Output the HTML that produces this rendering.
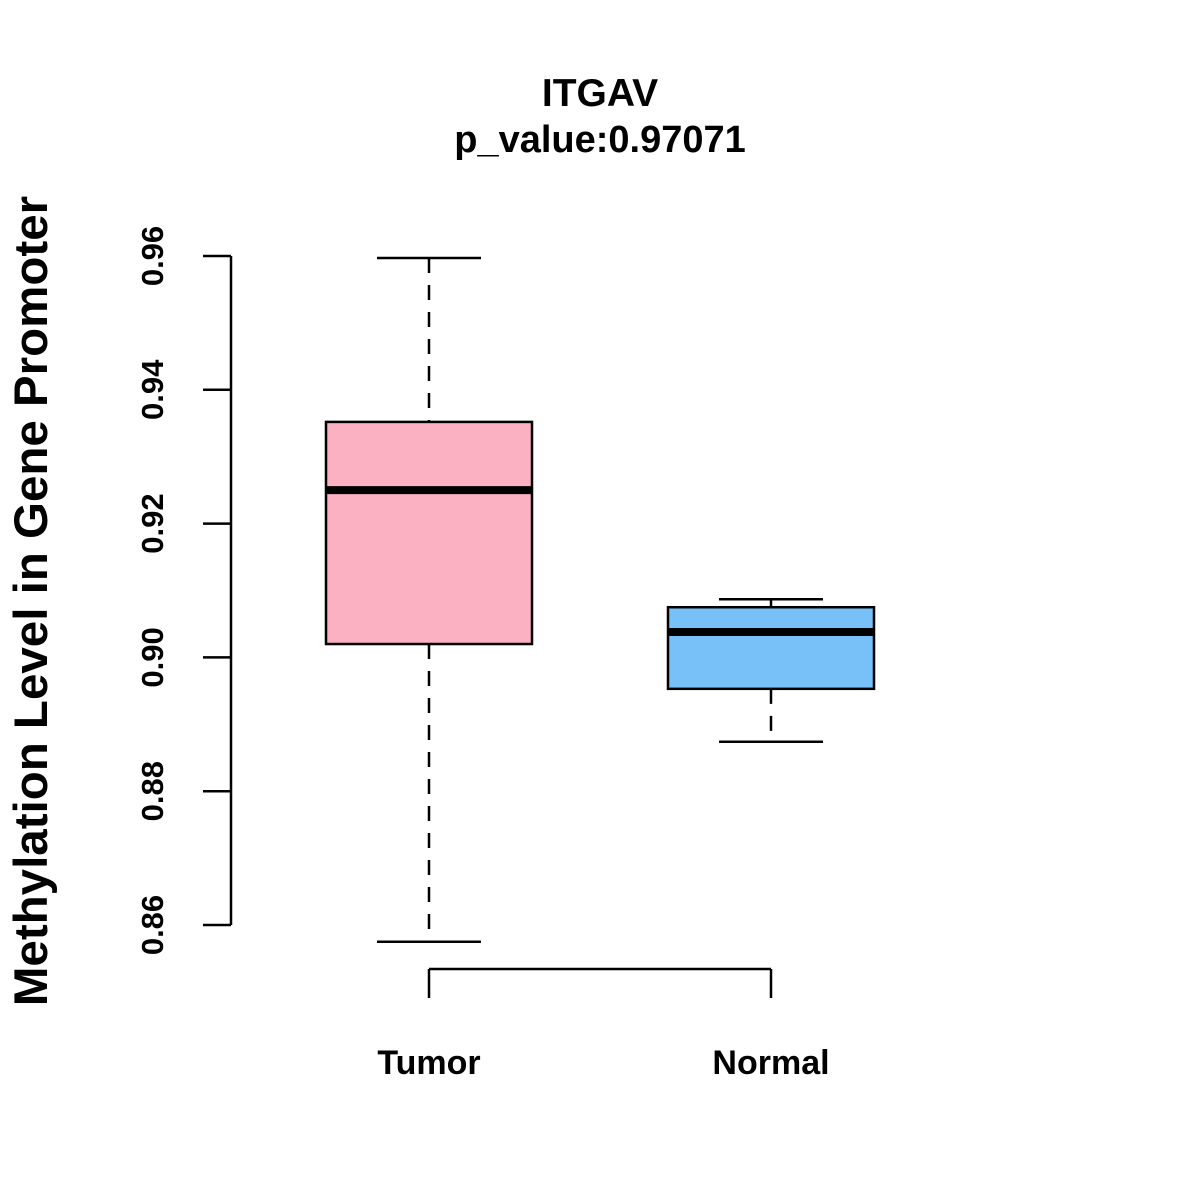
<!DOCTYPE html>
<html><head><meta charset="utf-8"><style>
html,body{margin:0;padding:0;background:#fff;}
svg{display:block;font-family:"Liberation Sans",Arial,sans-serif;font-weight:bold;}
</style></head><body>
<svg id="chart" width="1200" height="1200" viewBox="0 0 1200 1200">
<text x="600" y="106" text-anchor="middle" font-size="39">ITGAV</text>
<text x="600" y="152" text-anchor="middle" font-size="38">p_value:0.97071</text>
<text transform="translate(47,601) rotate(-90)" text-anchor="middle" font-size="47.5">Methylation Level in Gene Promoter</text>
<g id="yaxis"></g>
<g id="xaxis"></g>
<g id="boxes"></g>
</svg>
<script>
const categories = ["Tumor", "Normal"];
const whiskerLow = [0.8575, 0.8874];
const q1 = [0.9020, 0.8953];
const medians = [0.9250, 0.9038];
const q3 = [0.9352, 0.9075];
const whiskerHigh = [0.9597, 0.9087];
const yTicks = [0.86, 0.88, 0.90, 0.92, 0.94, 0.96];
const yTickLabels = ["0.86", "0.88", "0.90", "0.92", "0.94", "0.96"];
const colors = ["#FBB1C2", "#78C1F8"];

const NS = "http://www.w3.org/2000/svg";
function y(v){ return 925 + (v - 0.86) * (256 - 925) / 0.10; }
function x(i){ return 429 + i * 342; }
function mk(parent, tag, attrs){ const e = document.createElementNS(NS, tag); for (const k in attrs) e.setAttribute(k, attrs[k]); parent.appendChild(e); return e; }

const ya = document.getElementById("yaxis");
const yl = mk(ya, "line", {x1:231, x2:231, y1:y(yTicks[0]), y2:y(yTicks[yTicks.length-1]), stroke:"#000", "stroke-width":2.5});


yTicks.forEach((t, i) => {
  const tk = mk(ya, "line", {x1:203, x2:231, y1:y(t), y2:y(t), stroke:"#000", "stroke-width":2.5});
  
  
  const tx = mk(ya, "text", {transform:`translate(163,${y(t)}) rotate(-90)`, "text-anchor":"middle", "font-size":31});
  tx.textContent = yTickLabels[i];
  
  
});

const xa = document.getElementById("xaxis");
const xl = mk(xa, "line", {x1:x(0), x2:x(categories.length-1), y1:969, y2:969, stroke:"#000", "stroke-width":2.5});


categories.forEach((c, i) => {
  const tk = mk(xa, "line", {x1:x(i), x2:x(i), y1:969, y2:998, stroke:"#000", "stroke-width":2.5});
  
  
  const tx = mk(xa, "text", {x:x(i), y:1074, "text-anchor":"middle", "font-size":34});
  tx.textContent = c;
  
  
});

const bx = document.getElementById("boxes");
categories.forEach((c, i) => {
  const cx = x(i);
  const g = mk(bx, "g", {});
  
  
  const w1 = mk(g, "line", {x1:cx, x2:cx, y1:y(whiskerHigh[i]), y2:y(q3[i]), stroke:"#000", "stroke-width":2.5, "stroke-dasharray":"15,12"});
  
  
  const w2 = mk(g, "line", {x1:cx, x2:cx, y1:y(q1[i]), y2:y(whiskerLow[i]), stroke:"#000", "stroke-width":2.5, "stroke-dasharray":"15,12"});
  
  
  const c1 = mk(g, "line", {x1:cx-52, x2:cx+52, y1:y(whiskerHigh[i]), y2:y(whiskerHigh[i]), stroke:"#000", "stroke-width":2.5});
  
  
  const c2 = mk(g, "line", {x1:cx-52, x2:cx+52, y1:y(whiskerLow[i]), y2:y(whiskerLow[i]), stroke:"#000", "stroke-width":2.5});
  
  
  const r = mk(g, "rect", {x:cx-103, width:206, y:y(q3[i]), height:y(q1[i]) - y(q3[i]), fill:colors[i], stroke:"#000", "stroke-width":2.5});
  
  
  const m = mk(g, "line", {x1:cx-103, x2:cx+103, y1:y(medians[i]), y2:y(medians[i]), stroke:"#000", "stroke-width":8});
  
  
});
</script>
</body></html>
